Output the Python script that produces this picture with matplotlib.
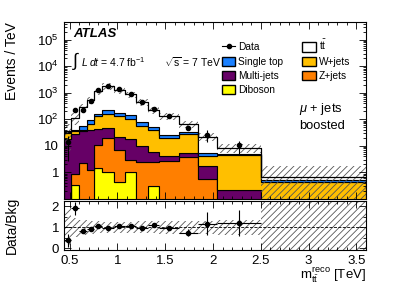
import numpy as np
import matplotlib
matplotlib.use('Agg')
import matplotlib.pyplot as plt
from matplotlib.patches import Patch
from matplotlib.lines import Line2D
from matplotlib.ticker import MultipleLocator, LogLocator, FuncFormatter, NullFormatter

plt.rcParams['font.family'] = ['Liberation Sans', 'DejaVu Sans']
plt.rcParams['mathtext.fontset'] = 'custom'
plt.rcParams['mathtext.rm'] = 'Liberation Sans'
plt.rcParams['mathtext.it'] = 'Liberation Sans:italic'
plt.rcParams['mathtext.bf'] = 'Liberation Sans:bold'
plt.rcParams['hatch.linewidth'] = 0.6

# bin edges in TeV
edges = np.array([0.44, 0.52, 0.60, 0.68, 0.76, 0.84, 0.96, 1.08, 1.20,
                  1.32, 1.44, 1.64, 1.84, 2.04, 2.50, 3.60])

# background components, Events / TeV
diboson    = [0, 0.35, 0, 0, 1.5, 1.0, 0.43, 1.0, 0, 0.32, 0, 0, 0, 0, 0]
zjets      = [0, 0.53, 2.2, 1.2, 8.9, 18.2, 6.4, 1.84, 2.45, 2.06, 2.8, 3.7, 0.58, 0, 0]
multijet   = [17.6, 26.1, 32.8, 37.3, 33.4, 27.8, 14.2, 14.8, 7.2, 3.3, 1.2, 1.5, 1.1, 0.21, 0]
wjets      = [13.4, 8.0, 5.9, 30.3, 86, 117, 112, 88, 49, 32.8, 15.7, 23.7, 2.5, 4.2, 0.43]
single_top = [1.0, 3.5, 13.5, 22.8, 34, 68, 46, 35, 20, 12.5, 5.2, 4.1, 1.15, 0.6, 0.07]
ttbar      = [4.0, 76.5, 228, 439, 995, 1564, 1092, 733, 380, 179, 109, 32, 17.2, 3.5, 0.2]

# data (no entries in the last bin)
data     = [13.6, 219, 232, 478, 1240, 1760, 1360, 935, 450, 253, 130, 48.7, 26.5, 10.4]
data_err = [10.8, 34.5, 28, 42, 58, 72, 64, 52, 32, 23, 13.4, 9.8, 12.4, 5.3]

# relative uncertainty on the total background
bkg_unc = [0.85, 0.45, 0.35, 0.3, 0.28, 0.27, 0.27, 0.27, 0.28, 0.28, 0.3, 0.3, 0.32, 0.35, 1.5]

c_db, c_z, c_mj, c_w, c_st, c_tt = '#ffff00', '#ff7f00', '#660066', '#ffbf00', '#1a80ff', 'white'

centers = 0.5 * (edges[1:] + edges[:-1])
widths = edges[1:] - edges[:-1]
nd = len(data)

fig = plt.figure(figsize=(3.99, 2.86), dpi=100)
ax = fig.add_axes([0.160, 0.304, 0.757, 0.619])
rx = fig.add_axes([0.160, 0.126, 0.757, 0.171])

# stacked backgrounds
base = np.full(len(ttbar), 1e-3)
for vals, col in [(diboson, c_db), (zjets, c_z), (multijet, c_mj),
                  (wjets, c_w), (single_top, c_st), (ttbar, c_tt)]:
    top = base + np.array(vals, dtype=float)
    ax.stairs(top, edges, baseline=base, fill=True, facecolor=col,
              edgecolor='black', linewidth=0.8)
    base = top
total = base

# uncertainty band
unc = np.array(bkg_unc)
lo = np.clip(total * (1 - unc), 1e-3, None)
hi = total * (1 + unc)
ax.bar(edges[:-1], hi - lo, bottom=lo, width=widths, align='edge', fill=False,
       hatch='/////', edgecolor='#555555', linewidth=0)
ax.stairs(total, edges, color='black', linewidth=0.8)

ax.errorbar(centers[:nd], data, yerr=data_err, fmt='o', ms=3, color='black',
            elinewidth=0.8, capsize=0, zorder=5)

ax.set_yscale('log')
ax.set_ylim(0.1, 4.6e5)
ax.set_xlim(edges[0], edges[-1])

def yfmt(v, pos):
    e = int(round(np.log10(v)))
    if e < 0:
        return ''
    if e == 0:
        return '1'
    if e == 1:
        return '10'
    return r'$10^{%d}$' % e

ax.yaxis.set_major_locator(LogLocator(base=10, numticks=12))
ax.yaxis.set_major_formatter(FuncFormatter(yfmt))
ax.yaxis.set_minor_locator(LogLocator(base=10, subs=np.arange(2, 10), numticks=12))
ax.yaxis.set_minor_formatter(NullFormatter())
ax.xaxis.set_major_locator(MultipleLocator(0.5))
ax.xaxis.set_minor_locator(MultipleLocator(0.1))
ax.set_xticklabels([])
ax.set_ylabel('Events / TeV', fontsize=10, loc='top')

handles = [Line2D([], [], color='black', marker='o', ms=3, lw=0.8),
           Patch(facecolor=c_st, edgecolor='black'),
           Patch(facecolor=c_mj, edgecolor='black'),
           Patch(facecolor=c_db, edgecolor='black'),
           Patch(facecolor=c_tt, edgecolor='black'),
           Patch(facecolor=c_w, edgecolor='black'),
           Patch(facecolor=c_z, edgecolor='black')]
labels = ['Data', 'Single top', 'Multi-jets', 'Diboson', r'$\mathrm{t\bar{t}}$',
          'W+jets', 'Z+jets']
ax.legend(handles, labels, ncol=2, loc='upper left', bbox_to_anchor=(0.51, 0.93),
          frameon=False, fontsize=7.3, handlelength=1.3, handleheight=1.0,
          handletextpad=0.3, columnspacing=1.9, labelspacing=0.42, borderaxespad=0)

ax.text(0.03, 0.935, 'ATLAS', transform=ax.transAxes, fontsize=9.5,
        fontweight='bold', style='italic', va='center')
ax.text(0.028, 0.78, r'$\int$', transform=ax.transAxes, fontsize=13, va='center')
ax.text(0.058, 0.775, r'$L\;dt$ = 4.7 fb$^{-1}$', transform=ax.transAxes,
        fontsize=7.5, va='center')
ax.text(0.33, 0.775, r'$\sqrt{\mathrm{s}}$ = 7 TeV', transform=ax.transAxes,
        fontsize=7.5, va='center')
ax.text(0.778, 0.51, r'$\mu$ + jets', transform=ax.transAxes, fontsize=9.3, va='center')
ax.text(0.778, 0.41, 'boosted', transform=ax.transAxes, fontsize=9.3, va='center')

# ratio panel
ratio = np.array(data) / total[:nd]
ratio_err = np.array(data_err) / total[:nd]
rx.bar(edges[:-1], 2 * unc, bottom=1 - unc, width=widths, align='edge', fill=False,
       hatch='/////', edgecolor='#555555', linewidth=0)
rx.axhline(1, color='black', ls='--', lw=0.6)
rx.errorbar(centers[:nd], ratio, xerr=widths[:nd] / 2, yerr=ratio_err, fmt='o',
            ms=3, color='black', elinewidth=0.8, capsize=0)
rx.set_xlim(edges[0], edges[-1])
rx.set_ylim(-0.08, 2.25)
rx.yaxis.set_major_locator(MultipleLocator(1))
rx.yaxis.set_minor_locator(MultipleLocator(0.5))
rx.xaxis.set_major_locator(MultipleLocator(0.5))
rx.xaxis.set_minor_locator(MultipleLocator(0.1))
rx.xaxis.set_major_formatter(FuncFormatter(lambda v, p: '%g' % v))
rx.set_ylabel('Data/Bkg', fontsize=10)

for a in (ax, rx):
    a.tick_params(which='both', direction='in', top=True, right=True, labelsize=9.5)
    a.tick_params(which='major', length=5, width=0.6)
    a.tick_params(which='minor', length=2.5, width=0.6)
    for s in a.spines.values():
        s.set_linewidth(0.8)

ax.yaxis.set_label_coords(-0.15, 1.0)
rx.yaxis.set_label_coords(-0.15, 0.5)

fig.text(0.917, 0.022, r'$\mathrm{m}_{\mathrm{t\bar{t}}}^{\mathrm{reco}}$ [TeV]',
         fontsize=9.5, ha='right', va='baseline')

fig.savefig('out.png', dpi=100)
